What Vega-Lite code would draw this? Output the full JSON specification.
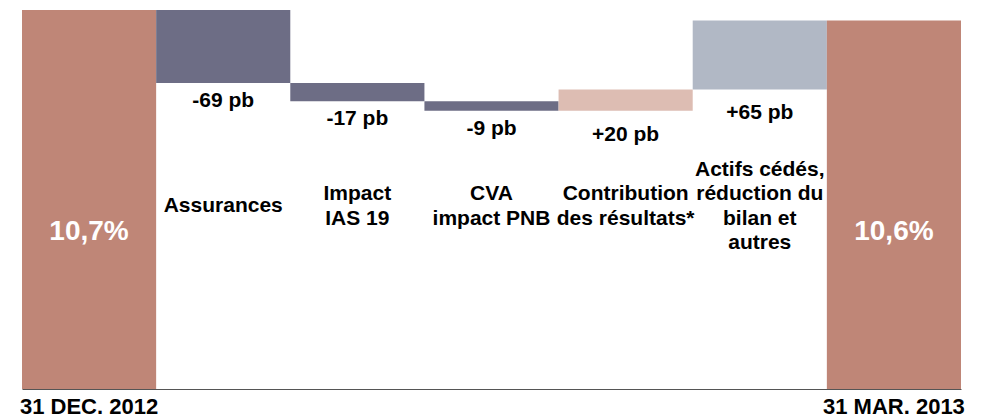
{
  "$schema": "https://vega.github.io/schema/vega-lite/v6.json",
  "autosize": {"type": "none"},
  "width": 939,
  "height": 389,
  "padding": {"left": 22, "top": 0, "right": 21, "bottom": 28},
  "background": "white",
  "config": {"view": {"stroke": null}, "font": "Liberation Sans"},
  "data": {
    "values": [
      {"step": "31 DEC. 2012", "start": 0, "end": 10.7, "kind": "total", "cat": "", "val": "10,7%"},
      {"step": "Assurances", "start": 10.7, "end": 10.01, "kind": "neg", "cat": "Assurances", "val": "-69 pb"},
      {"step": "Impact IAS 19", "start": 10.01, "end": 9.84, "kind": "neg", "cat": "Impact\nIAS 19", "val": "-17 pb"},
      {"step": "CVA impact PNB", "start": 9.84, "end": 9.75, "kind": "neg", "cat": "CVA\nimpact PNB", "val": "-9 pb"},
      {"step": "Contribution des résultats*", "start": 9.75, "end": 9.95, "kind": "pos1", "cat": "Contribution\ndes résultats*", "val": "+20 pb"},
      {"step": "Actifs cédés, réduction du bilan et autres", "start": 9.95, "end": 10.6, "kind": "pos2", "cat": "Actifs cédés,\nréduction du\nbilan et\nautres", "val": "+65 pb"},
      {"step": "31 MAR. 2013", "start": 0, "end": 10.6, "kind": "total", "cat": "", "val": "10,6%"}
    ]
  },
  "encoding": {
    "x": {
      "field": "step",
      "type": "nominal",
      "sort": null,
      "scale": {"paddingInner": 0, "paddingOuter": 0},
      "axis": {
        "title": null,
        "labelAngle": 0,
        "ticks": false,
        "labelPadding": 7,
        "labelFontSize": 22,
        "labelFontWeight": "bold",
        "labelColor": "#000000",
        "labelBaseline": "top",
        "labelLimit": 0,
        "domainColor": "#555555",
        "domainWidth": 1,
        "labelExpr": "datum.label == '31 DEC. 2012' || datum.label == '31 MAR. 2013' ? datum.label : ''"
      }
    }
  },
  "layer": [
    {
      "mark": {"type": "bar", "clip": true},
      "encoding": {
        "y": {"field": "start", "type": "quantitative", "scale": {"domain": [7.125, 10.794], "zero": false, "nice": false}, "axis": null},
        "y2": {"field": "end"},
        "color": {
          "field": "kind",
          "type": "nominal",
          "scale": {"domain": ["total", "neg", "pos1", "pos2"], "range": ["#BF8677", "#6D6D85", "#DDBDB3", "#B1B8C5"]},
          "legend": null
        }
      }
    },
    {
      "transform": [{"filter": "datum.kind == 'neg'"}],
      "mark": {"type": "text", "baseline": "middle", "align": "center", "dy": 18, "fontSize": 21, "fontWeight": "bold", "color": "#000000"},
      "encoding": {
        "y": {"field": "end", "type": "quantitative"},
        "text": {"field": "val"}
      }
    },
    {
      "transform": [{"filter": "datum.kind == 'pos1' || datum.kind == 'pos2'"}],
      "mark": {"type": "text", "baseline": "middle", "align": "center", "dy": 24, "fontSize": 21, "fontWeight": "bold", "color": "#000000"},
      "encoding": {
        "y": {"field": "start", "type": "quantitative"},
        "text": {"field": "val"}
      }
    },
    {
      "transform": [{"filter": "datum.step == 'Assurances'"}],
      "mark": {"type": "text", "baseline": "middle", "align": "center", "fontSize": 21, "fontWeight": "bold", "color": "#000000", "lineBreak": "\n", "lineHeight": 24.5},
      "encoding": {
        "y": {"datum": 8.85, "type": "quantitative"},
        "text": {"field": "cat"}
      }
    },
    {
      "transform": [{"filter": "datum.step == 'Impact IAS 19' || datum.step == 'CVA impact PNB' || datum.kind == 'pos1'"}],
      "mark": {"type": "text", "baseline": "middle", "align": "center", "dy": -12.5, "fontSize": 21, "fontWeight": "bold", "color": "#000000", "lineBreak": "\n", "lineHeight": 25},
      "encoding": {
        "y": {"datum": 8.85, "type": "quantitative"},
        "text": {"field": "cat"}
      }
    },
    {
      "transform": [{"filter": "datum.kind == 'pos2'"}],
      "mark": {"type": "text", "baseline": "middle", "align": "center", "dy": -36.5, "fontSize": 21, "fontWeight": "bold", "color": "#000000", "lineBreak": "\n", "lineHeight": 24.5},
      "encoding": {
        "y": {"datum": 8.85, "type": "quantitative"},
        "text": {"field": "cat"}
      }
    },
    {
      "transform": [{"filter": "datum.kind == 'total'"}],
      "mark": {"type": "text", "baseline": "middle", "align": "center", "fontSize": 28, "fontWeight": "bold", "color": "#FFFFFF"},
      "encoding": {
        "y": {"datum": 8.61, "type": "quantitative"},
        "text": {"field": "val"}
      }
    }
  ]
}
